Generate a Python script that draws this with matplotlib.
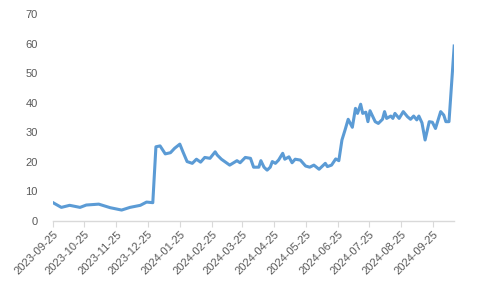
import matplotlib
matplotlib.use("Agg")
import matplotlib.pyplot as plt
import matplotlib.dates as mdates
import pandas as pd

plt.rcParams["font.family"] = ["Liberation Sans", "DejaVu Sans"]

# Datos
fechas = [
    "2023-09-25", "2023-10-03", "2023-10-11", "2023-10-21", "2023-10-27", "2023-11-08",
    "2023-11-19", "2023-11-30", "2023-12-08", "2023-12-18", "2023-12-24", "2023-12-30",
    "2024-01-02", "2024-01-06", "2024-01-11", "2024-01-16", "2024-01-20", "2024-01-25",
    "2024-01-28", "2024-02-01", "2024-02-06", "2024-02-10", "2024-02-14", "2024-02-18",
    "2024-02-23", "2024-02-28", "2024-03-01", "2024-03-05", "2024-03-13", "2024-03-20",
    "2024-03-23", "2024-03-28", "2024-04-02", "2024-04-05", "2024-04-10", "2024-04-12",
    "2024-04-15", "2024-04-18", "2024-04-21", "2024-04-23", "2024-04-26", "2024-04-29",
    "2024-05-03", "2024-05-05", "2024-05-09", "2024-05-12", "2024-05-15", "2024-05-20",
    "2024-05-25", "2024-05-29", "2024-06-02", "2024-06-07", "2024-06-13", "2024-06-15",
    "2024-06-19", "2024-06-23", "2024-06-26", "2024-06-29", "2024-07-02", "2024-07-05",
    "2024-07-09", "2024-07-12", "2024-07-14", "2024-07-17", "2024-07-19", "2024-07-22",
    "2024-07-24", "2024-07-26", "2024-07-31", "2024-08-03", "2024-08-07", "2024-08-09",
    "2024-08-11", "2024-08-15", "2024-08-17", "2024-08-19", "2024-08-23", "2024-08-27",
    "2024-08-31", "2024-09-03", "2024-09-06", "2024-09-09", "2024-09-11", "2024-09-14",
    "2024-09-17", "2024-09-21", "2024-09-24", "2024-09-27", "2024-10-02", "2024-10-05",
    "2024-10-07", "2024-10-10", "2024-10-15",
]
valores = [
    6.2, 4.6, 5.3, 4.6, 5.4, 5.7,
    4.5, 3.7, 4.6, 5.3, 6.4, 6.2,
    25.1, 25.4, 22.7, 23.1, 24.6, 26.0,
    23.4, 20.1, 19.5, 20.9, 19.9, 21.5,
    21.2, 23.4, 22.3, 20.9, 18.9, 20.4,
    19.7, 21.5, 21.2, 18.2, 18.2, 20.4,
    18.2, 17.2, 18.2, 20.1, 19.5, 20.6,
    22.9, 20.9, 21.7, 19.7, 20.9, 20.6,
    18.6, 18.2, 18.9, 17.5, 19.5, 18.4,
    18.9, 21.0, 20.4, 27.4, 30.8, 34.4,
    31.7, 38.1, 36.4, 39.5, 36.4, 36.8,
    33.6, 37.3, 33.6, 33.0, 34.4, 37.0,
    34.7, 35.5, 34.7, 36.4, 34.7, 37.0,
    35.3, 34.4, 35.5, 34.2, 35.5, 33.2,
    27.4, 33.6, 33.4, 31.3, 37.0, 35.8,
    33.6, 33.6, 59.2,
]
ticks_x = ["2023-09-25", "2023-10-25", "2023-11-25", "2023-12-25", "2024-01-25",
           "2024-02-25", "2024-03-25", "2024-04-25", "2024-05-25", "2024-06-25",
           "2024-07-25", "2024-08-25", "2024-09-25"]
ticks_y = [0, 10, 20, 30, 40, 50, 60, 70]

fechas = pd.to_datetime(fechas)
ticks_x = pd.to_datetime(ticks_x)

fig = plt.figure(figsize=(4.79, 2.87), dpi=100)
ax = fig.add_axes([0.1107, 0.23, 0.8375, 0.721])

ax.plot(fechas, valores, color="#5B9BD5", linewidth=2.2, solid_joinstyle="round")

ax.set_xlim(fechas[0], fechas[-1])
ax.set_ylim(0, 70)
ax.set_yticks(ticks_y)
ax.set_xticks(ticks_x)
ax.xaxis.set_major_formatter(mdates.DateFormatter("%Y-%m-%d"))

for lado in ["top", "right", "left"]:
    ax.spines[lado].set_visible(False)
ax.spines["bottom"].set_color("#D9D9D9")
ax.spines["bottom"].set_linewidth(1)

ax.tick_params(axis="y", length=0, pad=11, labelsize=8, labelcolor="#595959")
ax.tick_params(axis="x", length=4, color="#D9D9D9", pad=2, labelsize=8, labelcolor="#595959")
for etiqueta in ax.get_xticklabels():
    etiqueta.set_rotation(45)
    etiqueta.set_ha("right")
    etiqueta.set_rotation_mode("anchor")

fig.savefig("out.png", dpi=100)
